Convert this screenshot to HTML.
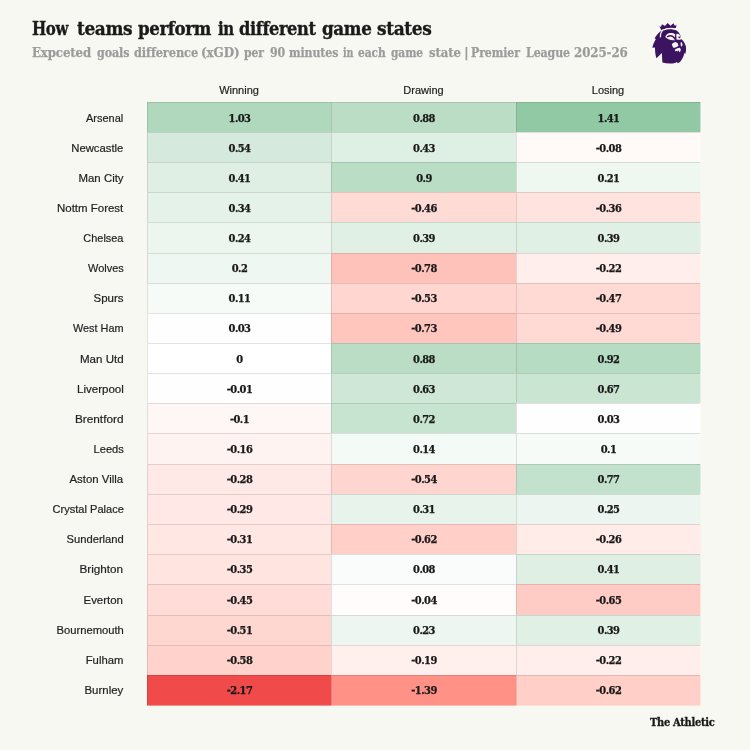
<!DOCTYPE html>
<html lang="en"><head><meta charset="utf-8"><title>How teams perform in different game states</title>
<style>
html,body{margin:0;padding:0}
body{width:750px;height:750px;background:#f8f8f3;position:relative;overflow:hidden;font-family:"Liberation Sans",sans-serif;color:#1c1c1c}
.abs{position:absolute;white-space:nowrap}
h1{position:absolute;margin:0;left:0;width:750px;height:24px;top:16.5px;font:bold 19.2px/24px "DejaVu Serif Condensed","DejaVu Serif","Liberation Serif",serif;letter-spacing:-0.405px;color:#1a1a1a;-webkit-text-stroke:0.35px #1a1a1a;white-space:nowrap}
h2{position:absolute;margin:0;left:0;width:750px;height:18px;top:43.6px;font:bold 13.3px/18px "DejaVu Serif Condensed","DejaVu Serif","Liberation Serif",serif;letter-spacing:-0.1px;color:#9b9b9b;-webkit-text-stroke:0.25px #9b9b9b;white-space:nowrap}
h1 span,h2 span{position:absolute;top:0;transform-origin:0 50%}
.ch{position:absolute;top:82px;height:16px;line-height:16px;font-size:11px;text-align:center;color:#222;-webkit-text-stroke:0.2px #222}
.row{position:absolute;left:0;width:750px}
.lab{position:absolute;left:0;width:123.4px;text-align:right;font-size:11.3px;color:#222;top:1px;-webkit-text-stroke:0.2px #222}
.c{position:absolute;top:0;text-align:center;box-sizing:border-box;border-top:1px solid rgba(0,0,0,0.11);border-left:1px solid rgba(0,0,0,0.11)}
.v1{font:bold 11px "DejaVu Serif Condensed","DejaVu Serif",serif;letter-spacing:-0.55px;-webkit-text-stroke:0.25px #1a1a1a;color:#1a1a1a}
.v2{font:bold 11px "DejaVu Serif Condensed","DejaVu Serif",serif;letter-spacing:-0.55px;-webkit-text-stroke:0.25px #1a1a1a;color:#1a1a1a}
.lab span{display:inline-block;transform-origin:100% 50%}
.c b{position:relative;font-weight:inherit}
.e{position:absolute;display:block}
.foot{position:absolute;left:650px;top:715.4px;-webkit-text-stroke:0.3px #1a1a1a;font:bold 11px/16px "DejaVu Serif Condensed","Liberation Serif",serif;letter-spacing:-0.3px;color:#1a1a1a;white-space:nowrap}
</style></head><body>
<h1><span style="left:31.54px;transform:scaleX(0.8704)">How</span> <span style="left:77.46px;transform:scaleX(0.9830)">teams</span> <span style="left:137.96px;transform:scaleX(0.9643)">perform</span> <span style="left:217.84px;transform:scaleX(0.8682)">in</span> <span style="left:239.16px;transform:scaleX(0.9415)">different</span> <span style="left:321.70px;transform:scaleX(0.9711)">game</span> <span style="left:377.04px;transform:scaleX(0.9852)">states</span></h1>
<h2><span style="left:32.34px;transform:scaleX(0.9813)">Expceted</span> <span style="left:96.50px;transform:scaleX(0.9298)">goals</span> <span style="left:133.96px;transform:scaleX(0.9523)">difference</span> <span style="left:201.20px;transform:scaleX(1.0004)">(xGD)</span> <span style="left:243.96px;transform:scaleX(0.9064)">per</span> <span style="left:269.84px;transform:scaleX(0.9213)">90</span> <span style="left:288.88px;transform:scaleX(0.9159)">minutes</span> <span style="left:343.30px;transform:scaleX(0.8000)">in</span> <span style="left:357.84px;transform:scaleX(0.8898)">each</span> <span style="left:391.34px;transform:scaleX(0.8890)">game</span> <span style="left:428.80px;transform:scaleX(0.9763)">state</span> <span style="left:464.16px;transform:scaleX(1.0000)">|</span> <span style="left:471.34px;transform:scaleX(0.9160)">Premier</span> <span style="left:525.92px;transform:scaleX(0.9186)">League</span> <span style="left:574.04px;transform:scaleX(0.9910)">2025-26</span></h2>
<svg class="abs" style="left:648px;top:20px" width="42" height="46" viewBox="648 20 42 46" role="img" aria-label="Premier League">
<g fill="#3b1361">
<path d="M659.4 26.2 L661 26.7 L662 24.2 L665 26.1 L667.6 23 L670.6 25.8 L673.4 23.2 L675 26 L676.4 24.4 L675.9 28.4 Q668 27.4 661.2 30 Z"/>
<path d="M662.6 30.0 C665 29.0 670 28.6 675.5 29.9 C678 30.8 680 33.3 680.8 36.6 L680.6 38.8 C682.5 40 684.5 42.5 685.3 44.7 C686.3 47 686.4 50 685.3 53.9 L684.2 53 C684 55 683.4 57 682.3 58.4 C681.5 60 680.5 61.5 679.3 62.5 L677.5 63.2 L677 62 C675 63.2 673 63.6 671 63.6 C668 63.7 665 63.4 662.4 62.6 C662.2 59 662 56 661.9 53 L656.4 58.3 C655.4 55 655 51 655 47.5 L652.3 47.8 C653 44.5 654.5 41.5 655.9 39.1 L654.6 38.4 C656 35.6 658.8 32.2 662.6 30.0 Z"/>
</g>
<path d="M676.2 28.9 Q668.5 27.6 662.6 30.2 Q661 32.4 660.6 34.4 Q660.3 36 660.5 37.4" fill="none" stroke="#f8f8f3" stroke-width="1.25"/>
<g fill="#f8f8f3">
<path d="M665.3 37.1 C665.6 35.6 667 33.8 669.1 33.3 C670.6 32.9 673.6 33 675.2 34.3 L674.9 36.6 L675.2 40.2 L672.7 40.2 C670.6 40.2 667.6 39.4 665.3 37.1 Z"/>
<path d="M676.3 33.9 C677.5 33.6 678.6 33.8 679.4 34.6 C680.2 35.6 680.8 37.5 681 39.2 C680.2 39.9 678.8 40 677.6 39.7 L676.4 39.2 Z"/>
<path d="M671.8 44.2 L673.3 42.7 L675.7 41.9 L677.7 43.2 L678.5 45.7 L676.7 47 L673.7 48 L672.7 46.8 Z"/>
<path d="M680.5 42.4 L681.8 42.2 L682.6 44.7 L681.8 46.8 L680.8 45.7 Z"/>
<path d="M674.7 49.8 L677.2 48.3 L679.8 47.8 L680.9 49.5 L680 52.3 L679.2 51.8 L678.9 50.3 L677.5 51.8 L677 50.6 L675.5 51.6 Z"/>
</g>
<path d="M667.6 36.6 Q670.2 35 672.7 36.4 Q674 37.4 675 39.2" fill="none" stroke="#3b1361" stroke-width="1.5" stroke-linecap="round"/>
<circle cx="679.2" cy="37.3" r="0.9" fill="#3b1361"/>
</svg>
<div class="ch" style="left:147.0px;width:184.0px">Winning</div>
<div class="ch" style="left:331.0px;width:185.0px">Drawing</div>
<div class="ch" style="left:516.0px;width:184.0px">Losing</div>
<div class="row" style="top:102.0px;height:30.0px;line-height:30px"><div class="lab" style="top:1px"><span style="transform:scaleX(0.974)">Arsenal</span></div><div class="c v1" style="left:147.0px;width:184.0px;height:30.0px;line-height:31.0px;background:#afd8bd"><b style="top:0px">1.03</b></div><div class="c v2" style="left:331.0px;width:185.0px;height:30.0px;line-height:31.0px;background:#bbddc6"><b style="top:0px">0.88</b></div><div class="c v2" style="left:516.0px;width:184.0px;height:30.0px;line-height:31.0px;background:#91c9a5"><b style="top:0px">1.41</b></div><i class="e" style="left:700px;top:0;width:1px;height:30px;background:#cae3d0"></i></div>
<div class="row" style="top:132.0px;height:30.0px;line-height:30px"><div class="lab" style="top:1px"><span style="transform:scaleX(1.000)">Newcastle</span></div><div class="c v1" style="left:147.0px;width:184.0px;height:30.0px;line-height:31.0px;background:#d5eadc"><b style="top:0px">0.54</b></div><div class="c v2" style="left:331.0px;width:185.0px;height:30.0px;line-height:31.0px;background:#deefe3"><b style="top:0px">0.43</b></div><div class="c v2" style="left:516.0px;width:184.0px;height:30.0px;line-height:31.0px;background:#fff9f8"><b style="top:0px">-0.08</b></div><i class="e" style="left:700px;top:0;width:1px;height:30px;background:#fbf8f5"></i></div>
<div class="row" style="top:162.0px;height:30.0px;line-height:30px"><div class="lab" style="top:1px"><span style="transform:scaleX(1.012)">Man City</span></div><div class="c v1" style="left:147.0px;width:184.0px;height:30.0px;line-height:31.0px;background:#dfefe4"><b style="top:0px">0.41</b></div><div class="c v2" style="left:331.0px;width:185.0px;height:30.0px;line-height:31.0px;background:#b9ddc5"><b style="top:0px">0.9</b></div><div class="c v2" style="left:516.0px;width:184.0px;height:30.0px;line-height:31.0px;background:#eff7f1"><b style="top:0px">0.21</b></div><i class="e" style="left:700px;top:0;width:1px;height:30px;background:#f4f8f2"></i></div>
<div class="row" style="top:192.0px;height:30.0px;line-height:30px"><div class="lab" style="top:1px"><span style="transform:scaleX(1.016)">Nottm Forest</span></div><div class="c v1" style="left:147.0px;width:184.0px;height:30.0px;line-height:31.0px;background:#e5f2e9"><b style="top:0px">0.34</b></div><div class="c v2" style="left:331.0px;width:185.0px;height:30.0px;line-height:31.0px;background:#ffdbd6"><b style="top:0px">-0.46</b></div><div class="c v2" style="left:516.0px;width:184.0px;height:30.0px;line-height:31.0px;background:#ffe3df"><b style="top:0px">-0.36</b></div><i class="e" style="left:700px;top:0;width:1px;height:30px;background:#fbefea"></i></div>
<div class="row" style="top:222.0px;height:31.0px;line-height:30px"><div class="lab" style="top:1px"><span style="transform:scaleX(0.968)">Chelsea</span></div><div class="c v1" style="left:147.0px;width:184.0px;height:31.0px;line-height:31.0px;background:#ecf6ef"><b style="top:0px">0.24</b></div><div class="c v2" style="left:331.0px;width:185.0px;height:31.0px;line-height:31.0px;background:#e1f0e5"><b style="top:0px">0.39</b></div><div class="c v2" style="left:516.0px;width:184.0px;height:31.0px;line-height:31.0px;background:#e1f0e5"><b style="top:0px">0.39</b></div><i class="e" style="left:700px;top:0;width:1px;height:31px;background:#eef4ed"></i></div>
<div class="row" style="top:253.0px;height:30.0px;line-height:30px"><div class="lab" style="top:0px"><span style="transform:scaleX(0.972)">Wolves</span></div><div class="c v1" style="left:147.0px;width:184.0px;height:30.0px;line-height:31.0px;background:#eff7f2"><b style="top:-1px">0.2</b></div><div class="c v2" style="left:331.0px;width:185.0px;height:30.0px;line-height:31.0px;background:#ffc2ba"><b style="top:-1px">-0.78</b></div><div class="c v2" style="left:516.0px;width:184.0px;height:30.0px;line-height:31.0px;background:#ffeeeb"><b style="top:-1px">-0.22</b></div><i class="e" style="left:700px;top:0;width:1px;height:30px;background:#fbf4ef"></i></div>
<div class="row" style="top:283.0px;height:30.0px;line-height:30px"><div class="lab" style="top:0px"><span style="transform:scaleX(1.018)">Spurs</span></div><div class="c v1" style="left:147.0px;width:184.0px;height:30.0px;line-height:31.0px;background:#f6fbf8"><b style="top:-1px">0.11</b></div><div class="c v2" style="left:331.0px;width:185.0px;height:30.0px;line-height:31.0px;background:#ffd6d0"><b style="top:-1px">-0.53</b></div><div class="c v2" style="left:516.0px;width:184.0px;height:30.0px;line-height:31.0px;background:#ffdad5"><b style="top:-1px">-0.47</b></div><i class="e" style="left:700px;top:0;width:1px;height:30px;background:#fbeae6"></i></div>
<div class="row" style="top:313.0px;height:30.0px;line-height:30px"><div class="lab" style="top:0px"><span style="transform:scaleX(0.962)">West Ham</span></div><div class="c v1" style="left:147.0px;width:184.0px;height:30.0px;line-height:31.0px;background:#fdfefd"><b style="top:-1px">0.03</b></div><div class="c v2" style="left:331.0px;width:185.0px;height:30.0px;line-height:31.0px;background:#ffc6be"><b style="top:-1px">-0.73</b></div><div class="c v2" style="left:516.0px;width:184.0px;height:30.0px;line-height:31.0px;background:#ffd9d3"><b style="top:-1px">-0.49</b></div><i class="e" style="left:700px;top:0;width:1px;height:30px;background:#fbeae5"></i></div>
<div class="row" style="top:343.0px;height:30.0px;line-height:30px"><div class="lab" style="top:1px"><span style="transform:scaleX(1.024)">Man Utd</span></div><div class="c v1" style="left:147.0px;width:184.0px;height:30.0px;line-height:31.0px;background:#ffffff"><b style="top:0px">0</b></div><div class="c v2" style="left:331.0px;width:185.0px;height:30.0px;line-height:31.0px;background:#bbddc6"><b style="top:0px">0.88</b></div><div class="c v2" style="left:516.0px;width:184.0px;height:30.0px;line-height:31.0px;background:#b7dcc4"><b style="top:0px">0.92</b></div><i class="e" style="left:700px;top:0;width:1px;height:30px;background:#dbebde"></i></div>
<div class="row" style="top:373.0px;height:30.0px;line-height:30px"><div class="lab" style="top:1px"><span style="transform:scaleX(1.022)">Liverpool</span></div><div class="c v1" style="left:147.0px;width:184.0px;height:30.0px;line-height:31.0px;background:#fffefe"><b style="top:0px">-0.01</b></div><div class="c v2" style="left:331.0px;width:185.0px;height:30.0px;line-height:31.0px;background:#cee7d6"><b style="top:0px">0.63</b></div><div class="c v2" style="left:516.0px;width:184.0px;height:30.0px;line-height:31.0px;background:#cbe5d3"><b style="top:0px">0.67</b></div><i class="e" style="left:700px;top:0;width:1px;height:30px;background:#e4efe5"></i></div>
<div class="row" style="top:403.0px;height:30.0px;line-height:30px"><div class="lab" style="top:1px"><span style="transform:scaleX(1.044)">Brentford</span></div><div class="c v1" style="left:147.0px;width:184.0px;height:30.0px;line-height:31.0px;background:#fff7f6"><b style="top:0px">-0.1</b></div><div class="c v2" style="left:331.0px;width:185.0px;height:30.0px;line-height:31.0px;background:#c7e4d0"><b style="top:0px">0.72</b></div><div class="c v2" style="left:516.0px;width:184.0px;height:30.0px;line-height:31.0px;background:#fdfefd"><b style="top:0px">0.03</b></div><i class="e" style="left:700px;top:0;width:1px;height:30px;background:#fafbf8"></i></div>
<div class="row" style="top:433.0px;height:31.0px;line-height:30px"><div class="lab" style="top:1px"><span style="transform:scaleX(0.983)">Leeds</span></div><div class="c v1" style="left:147.0px;width:184.0px;height:31.0px;line-height:31.0px;background:#fff3f1"><b style="top:0px">-0.16</b></div><div class="c v2" style="left:331.0px;width:185.0px;height:31.0px;line-height:31.0px;background:#f4faf6"><b style="top:0px">0.14</b></div><div class="c v2" style="left:516.0px;width:184.0px;height:31.0px;line-height:31.0px;background:#f7fbf8"><b style="top:0px">0.1</b></div><i class="e" style="left:700px;top:0;width:1px;height:31px;background:#f8f9f5"></i></div>
<div class="row" style="top:464.0px;height:30.0px;line-height:30px"><div class="lab" style="top:0px"><span style="transform:scaleX(1.009)">Aston Villa</span></div><div class="c v1" style="left:147.0px;width:184.0px;height:30.0px;line-height:31.0px;background:#ffe9e6"><b style="top:-1px">-0.28</b></div><div class="c v2" style="left:331.0px;width:185.0px;height:30.0px;line-height:31.0px;background:#ffd5cf"><b style="top:-1px">-0.54</b></div><div class="c v2" style="left:516.0px;width:184.0px;height:30.0px;line-height:31.0px;background:#c3e2cd"><b style="top:-1px">0.77</b></div><i class="e" style="left:700px;top:0;width:1px;height:30px;background:#e0eee2"></i></div>
<div class="row" style="top:494.0px;height:30.0px;line-height:30px"><div class="lab" style="top:0px"><span style="transform:scaleX(0.979)">Crystal Palace</span></div><div class="c v1" style="left:147.0px;width:184.0px;height:30.0px;line-height:31.0px;background:#ffe8e5"><b style="top:-1px">-0.29</b></div><div class="c v2" style="left:331.0px;width:185.0px;height:30.0px;line-height:31.0px;background:#e7f3eb"><b style="top:-1px">0.31</b></div><div class="c v2" style="left:516.0px;width:184.0px;height:30.0px;line-height:31.0px;background:#ecf5ef"><b style="top:-1px">0.25</b></div><i class="e" style="left:700px;top:0;width:1px;height:30px;background:#f3f7f1"></i></div>
<div class="row" style="top:524.0px;height:30.0px;line-height:30px"><div class="lab" style="top:0px"><span style="transform:scaleX(0.991)">Sunderland</span></div><div class="c v1" style="left:147.0px;width:184.0px;height:30.0px;line-height:31.0px;background:#ffe7e3"><b style="top:-1px">-0.31</b></div><div class="c v2" style="left:331.0px;width:185.0px;height:30.0px;line-height:31.0px;background:#ffcfc8"><b style="top:-1px">-0.62</b></div><div class="c v2" style="left:516.0px;width:184.0px;height:30.0px;line-height:31.0px;background:#ffebe8"><b style="top:-1px">-0.26</b></div><i class="e" style="left:700px;top:0;width:1px;height:30px;background:#fbf2ee"></i></div>
<div class="row" style="top:554.0px;height:30.0px;line-height:30px"><div class="lab" style="top:0px"><span style="transform:scaleX(1.037)">Brighton</span></div><div class="c v1" style="left:147.0px;width:184.0px;height:30.0px;line-height:31.0px;background:#ffe4e0"><b style="top:-1px">-0.35</b></div><div class="c v2" style="left:331.0px;width:185.0px;height:30.0px;line-height:31.0px;background:#f9fcfa"><b style="top:-1px">0.08</b></div><div class="c v2" style="left:516.0px;width:184.0px;height:30.0px;line-height:31.0px;background:#dfefe4"><b style="top:-1px">0.41</b></div><i class="e" style="left:700px;top:0;width:1px;height:30px;background:#edf4ec"></i></div>
<div class="row" style="top:584.0px;height:31.0px;line-height:30px"><div class="lab" style="top:1px"><span style="transform:scaleX(1.013)">Everton</span></div><div class="c v1" style="left:147.0px;width:184.0px;height:31.0px;line-height:31.0px;background:#ffdcd7"><b style="top:0px">-0.45</b></div><div class="c v2" style="left:331.0px;width:185.0px;height:31.0px;line-height:31.0px;background:#fffcfb"><b style="top:0px">-0.04</b></div><div class="c v2" style="left:516.0px;width:184.0px;height:31.0px;line-height:31.0px;background:#ffccc5"><b style="top:0px">-0.65</b></div><i class="e" style="left:700px;top:0;width:1px;height:31px;background:#fbe4de"></i></div>
<div class="row" style="top:615.0px;height:30.0px;line-height:30px"><div class="lab" style="top:0px"><span style="transform:scaleX(0.993)">Bournemouth</span></div><div class="c v1" style="left:147.0px;width:184.0px;height:30.0px;line-height:31.0px;background:#ffd7d1"><b style="top:-1px">-0.51</b></div><div class="c v2" style="left:331.0px;width:185.0px;height:30.0px;line-height:31.0px;background:#edf6f0"><b style="top:-1px">0.23</b></div><div class="c v2" style="left:516.0px;width:184.0px;height:30.0px;line-height:31.0px;background:#e1f0e5"><b style="top:-1px">0.39</b></div><i class="e" style="left:700px;top:0;width:1px;height:30px;background:#eef4ed"></i></div>
<div class="row" style="top:645.0px;height:30.0px;line-height:30px"><div class="lab" style="top:0px"><span style="transform:scaleX(1.000)">Fulham</span></div><div class="c v1" style="left:147.0px;width:184.0px;height:30.0px;line-height:31.0px;background:#ffd2cb"><b style="top:-1px">-0.58</b></div><div class="c v2" style="left:331.0px;width:185.0px;height:30.0px;line-height:31.0px;background:#fff0ee"><b style="top:-1px">-0.19</b></div><div class="c v2" style="left:516.0px;width:184.0px;height:30.0px;line-height:31.0px;background:#ffeeeb"><b style="top:-1px">-0.22</b></div><i class="e" style="left:700px;top:0;width:1px;height:30px;background:#fbf4ef"></i></div>
<div class="row" style="top:675.0px;height:30.0px;line-height:30px"><div class="lab" style="top:0px"><span style="transform:scaleX(1.014)">Burnley</span></div><div class="c v1" style="left:147.0px;width:184.0px;height:30.0px;line-height:31.0px;background:#f04a4a"><b style="top:-1px">-2.17</b></div><div class="c v2" style="left:331.0px;width:185.0px;height:30.0px;line-height:31.0px;background:#ff9187"><b style="top:-1px">-1.39</b></div><div class="c v2" style="left:516.0px;width:184.0px;height:30.0px;line-height:31.0px;background:#ffcfc8"><b style="top:-1px">-0.62</b></div><i class="e" style="left:700px;top:0;width:1px;height:30px;background:#fbe6e0"></i><i class="e" style="left:147px;top:30px;width:184px;height:1px;background:#f3908e"></i><i class="e" style="left:331px;top:30px;width:185px;height:1px;background:#fcbab2"></i><i class="e" style="left:516px;top:30px;width:184px;height:1px;background:#fcdfd9"></i></div>
<div class="foot">The Athletic</div>
</body></html>
